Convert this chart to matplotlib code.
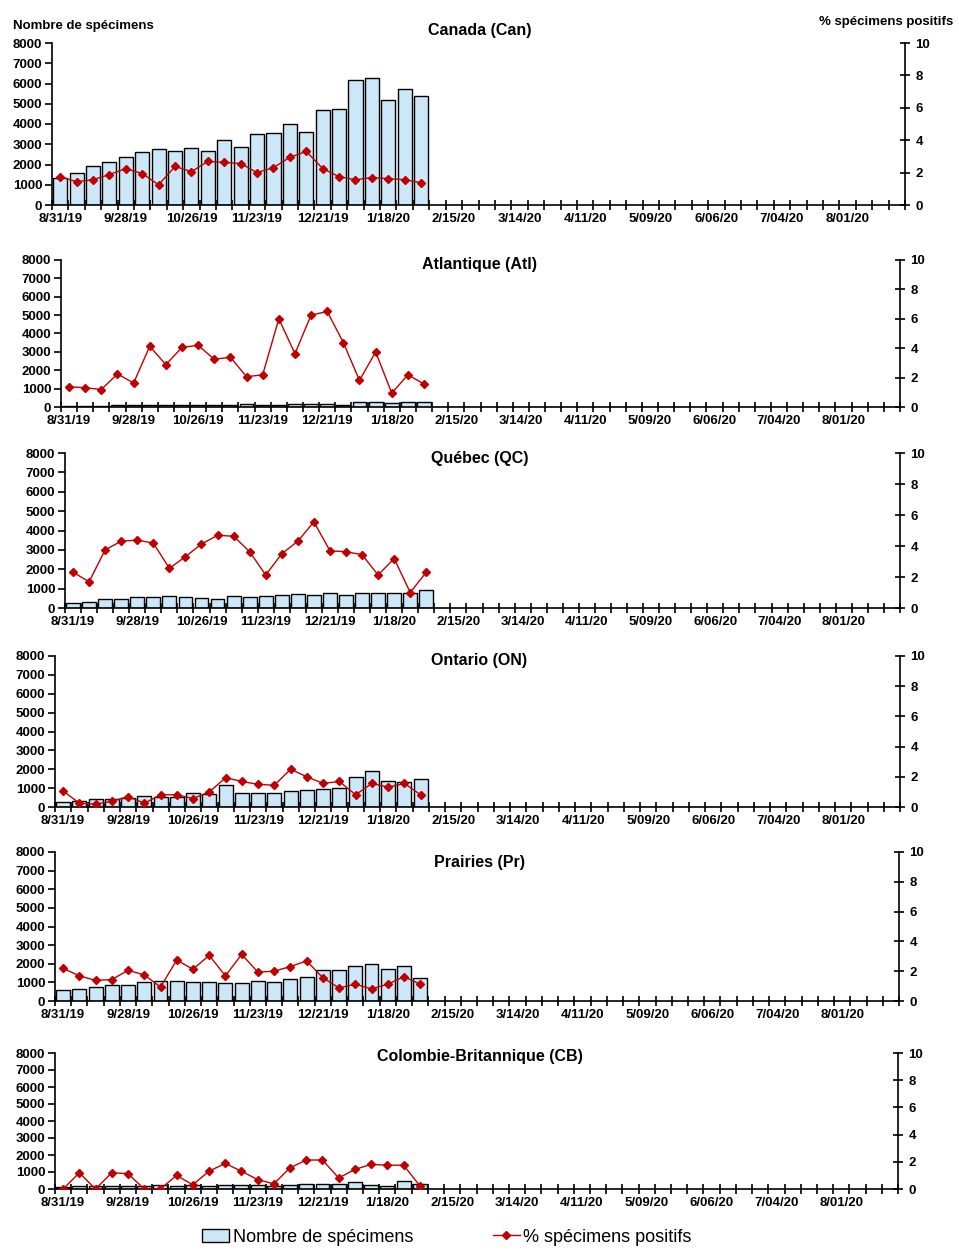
import numpy as np
import matplotlib
matplotlib.use("Agg")
import matplotlib.pyplot as plt

plt.rcParams['font.family'] = ['Liberation Sans', 'DejaVu Sans']

n_weeks = 52
week_labels = ["8/31/19", "9/28/19", "10/26/19", "11/23/19", "12/21/19", "1/18/20",
               "2/15/20", "3/14/20", "4/11/20", "5/09/20", "6/06/20", "7/04/20", "8/01/20"]

titles = ["Canada (Can)", "Atlantique (Atl)", "Québec (QC)", "Ontario (ON)",
          "Prairies (Pr)", "Colombie-Britannique (CB)"]

# nombre de specimens
can_n = [1350, 1600, 1950, 2100, 2350, 2600, 2750, 2650, 2800, 2650, 3200, 2850,
         3500, 3550, 4000, 3600, 4700, 4750, 6150, 6250, 5200, 5750, 5400]
atl_n = [40, 50, 80, 90, 100, 130, 130, 130, 130, 130, 130, 170,
         130, 130, 150, 160, 170, 130, 250, 250, 200, 250, 250]
qc_n = [250, 300, 450, 450, 550, 550, 600, 550, 500, 450, 600, 550,
        600, 650, 700, 650, 750, 650, 800, 800, 750, 800, 950]
on_n = [250, 300, 400, 400, 500, 600, 550, 550, 750, 700, 1150, 750,
        750, 750, 850, 900, 950, 1000, 1600, 1900, 1400, 1350, 1500]
pr_n = [600, 650, 750, 850, 850, 1000, 1050, 1100, 1000, 1000, 950, 950,
        1050, 1000, 1200, 1300, 1650, 1650, 1900, 2000, 1700, 1900, 1250]
cb_n = [100, 150, 150, 150, 150, 200, 250, 200, 250, 200, 250, 250,
        250, 200, 250, 300, 300, 300, 400, 250, 200, 450, 300]

# % specimens positifs
can_pct = [1.75, 1.44, 1.56, 1.88, 2.25, 1.94, 1.25, 2.38, 2.06, 2.69, 2.63, 2.56,
           2.0, 2.31, 2.94, 3.31, 2.25, 1.75, 1.56, 1.69, 1.63, 1.56, 1.38]
atl_pct = [1.38, 1.31, 1.19, 2.25, 1.63, 4.13, 2.88, 4.06, 4.19, 3.25, 3.38, 2.06,
           2.19, 6.0, 3.63, 6.25, 6.5, 4.38, 1.81, 3.75, 0.94, 2.19, 1.56]
qc_pct = [2.31, 1.69, 3.75, 4.31, 4.38, 4.19, 2.56, 3.31, 4.13, 4.69, 4.63, 3.63,
          2.13, 3.5, 4.31, 5.56, 3.69, 3.63, 3.44, 2.13, 3.19, 1.0, 2.31]
on_pct = [1.06, 0.25, 0.19, 0.38, 0.69, 0.25, 0.81, 0.81, 0.56, 1.0, 1.94, 1.69,
          1.5, 1.44, 2.5, 2.0, 1.56, 1.69, 0.81, 1.56, 1.31, 1.56, 0.81]
pr_pct = [2.19, 1.69, 1.38, 1.44, 2.06, 1.75, 0.94, 2.75, 2.13, 3.06, 1.69, 3.13,
          1.94, 2.0, 2.31, 2.69, 1.56, 0.88, 1.13, 0.81, 1.13, 1.63, 1.13]
cb_pct = [0, 1.19, 0, 1.19, 1.13, 0, 0, 1.0, 0.31, 1.31, 1.88, 1.31,
          0.69, 0.38, 1.56, 2.13, 2.13, 0.81, 1.44, 1.81, 1.75, 1.75, 0.25]

counts = [can_n, atl_n, qc_n, on_n, pr_n, cb_n]
pcts = [can_pct, atl_pct, qc_pct, on_pct, pr_pct, cb_pct]

W, H = 959, 1260
fig = plt.figure(figsize=(W / 100, H / 100), dpi=100)

# panel boxes in pixels: left, right, top, bottom, title y
boxes = [
    (52, 905, 43, 205, 31),
    (61, 900, 260, 407, 264),
    (65, 900, 453, 608, 459),
    (55, 900, 656, 807, 660),
    (55, 899, 852, 1001, 862),
    (55, 898, 1053, 1189, 1057),
]

bar_color = "#cce8f8"
line_color = "#c00000"

for i in range(6):
    l, r, t, b, ty = boxes[i]
    ax = fig.add_axes([l / W, 1 - b / H, (r - l) / W, (b - t) / H])
    x = np.arange(len(counts[i]))
    bars = ax.bar(x, counts[i], width=0.86, color=bar_color, edgecolor="black",
                  linewidth=1.0, label="Nombre de spécimens", zorder=2)
    ax.set_xlim(-0.5, n_weeks - 0.5)
    ax.set_ylim(0, 8000)
    ax.set_yticks(range(0, 8001, 1000))
    ax.set_xticks(np.arange(-0.5, n_weeks, 1.0))
    ax.set_xticklabels([])
    ax.set_xticks(np.arange(0, n_weeks, 4), minor=True)
    ax.set_xticklabels(week_labels, minor=True)
    ax.tick_params(axis="x", which="major", direction="inout", length=7, width=1.2)
    ax.tick_params(axis="x", which="minor", length=0, pad=6, labelsize=9.5)
    ax.tick_params(axis="y", direction="out", length=5, width=1.2, labelsize=9.5, pad=2)
    for lab in ax.get_xticklabels(minor=True) + ax.get_yticklabels():
        lab.set_fontweight("bold")
    ax.spines["top"].set_visible(False)
    ax.spines["right"].set_visible(False)
    ax.spines["left"].set_linewidth(1.2)
    ax.spines["bottom"].set_linewidth(1.2)
    ax.spines["bottom"].set_zorder(3)

    ax2 = ax.twinx()
    line, = ax2.plot(x, pcts[i], color=line_color, linewidth=1.0, marker="D",
                     markersize=4.5, label="% spécimens positifs")
    ax2.set_ylim(0, 10)
    ax2.set_yticks(range(0, 11, 2))
    ax2.tick_params(axis="y", direction="inout", length=7, width=1.2, labelsize=9.5, pad=4)
    for lab in ax2.get_yticklabels():
        lab.set_fontweight("bold")
    ax2.spines["top"].set_visible(False)
    ax2.spines["left"].set_visible(False)
    ax2.spines["bottom"].set_visible(False)
    ax2.spines["right"].set_linewidth(1.2)

    fig.text(0.5, 1 - ty / H, titles[i], ha="center", va="center",
             fontsize=11.5, fontweight="bold")

fig.text(13 / W, 1 - 26 / H, "Nombre de spécimens", ha="left", va="center",
         fontsize=9.5, fontweight="bold")
fig.text(953 / W, 1 - 22 / H, "% spécimens positifs", ha="right", va="center",
         fontsize=9.5, fontweight="bold")

fig.legend([bars, line], ["Nombre de spécimens", "% spécimens positifs"],
           loc="center", bbox_to_anchor=(447 / W, 1 - 1237 / H), ncol=2,
           frameon=False, fontsize=13, handlelength=1.5, handletextpad=0.2,
           columnspacing=4.4)

fig.savefig("out.png", dpi=100)
